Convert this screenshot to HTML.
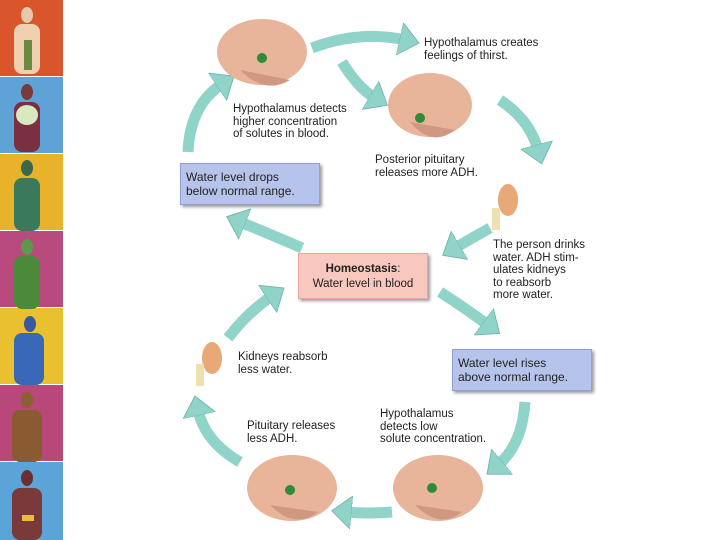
<!DOCTYPE html>
<html><head><style>
body{margin:0;width:720px;height:540px;background:#fff;position:relative;overflow:hidden;font-family:"Liberation Sans",sans-serif;}
.t{position:absolute;font-size:11.5px;line-height:12.5px;color:#222;}
.box{position:absolute;font-size:12px;line-height:14px;color:#222;box-shadow:2px 2px 3px #999;}
.p{position:absolute;left:0;width:63px;height:76px;}
</style></head><body>
<div class="p" style="top:0;background:#d9562c"></div>
<div class="p" style="top:77px;background:#5fa3d6"></div>
<div class="p" style="top:154px;background:#e8b22a"></div>
<div class="p" style="top:231px;background:#b84a7e"></div>
<div class="p" style="top:308px;background:#e8c030"></div>
<div class="p" style="top:385px;background:#b8487a"></div>
<div class="p" style="top:462px;background:#5aa4d8;height:78px"></div>
<svg style="position:absolute;left:0;top:0" width="63" height="540">
<g>
<ellipse cx="27" cy="15" rx="6" ry="8" fill="#e8c8a8"/><rect x="14" y="24" width="26" height="50" rx="8" fill="#f0d0b0"/><rect x="24" y="40" width="8" height="30" fill="#6a8a40"/>
<ellipse cx="27" cy="92" rx="6" ry="8" fill="#7a3a3a"/><rect x="14" y="102" width="26" height="50" rx="8" fill="#7a3040"/><ellipse cx="27" cy="115" rx="11" ry="10" fill="#d8e8c0"/>
<ellipse cx="27" cy="168" rx="6" ry="8" fill="#3a6a4a"/><rect x="14" y="178" width="26" height="53" rx="8" fill="#3a7a5a"/>
<ellipse cx="27" cy="247" rx="6" ry="8" fill="#5a9a4a"/><rect x="14" y="256" width="26" height="53" rx="8" fill="#4a8a3a"/>
<ellipse cx="30" cy="324" rx="6" ry="8" fill="#3a5aa0"/><rect x="14" y="333" width="30" height="52" rx="8" fill="#3a68b8"/>
<ellipse cx="27" cy="400" rx="6" ry="8" fill="#8a6030"/><rect x="12" y="410" width="30" height="52" rx="8" fill="#8a5a30"/>
<ellipse cx="27" cy="478" rx="6" ry="8" fill="#6a3030"/><rect x="12" y="488" width="30" height="52" rx="8" fill="#7a3a3a"/><rect x="22" y="515" width="12" height="6" fill="#e8c030"/>
</g></svg>
<svg style="position:absolute;left:0;top:0" width="720" height="540">
<defs><marker id="a" markerWidth="3" markerHeight="3" refX="0.5" refY="1.5" orient="auto" markerUnits="strokeWidth"><path d="M0,0 L1.8,1.5 L0,3 z" fill="#8fd3c9" stroke="#6bb5ab" stroke-width=".08"/></marker></defs>
<g fill="none" stroke="#8fd3c9" stroke-width="11" marker-end="url(#a)">
<path d="M312,48 Q360,30 405,40"/>
<path d="M342,62 Q358,88 375,98"/>
<path d="M500,100 Q530,120 538,150"/>
<path d="M188,152 Q190,105 222,84"/>
<path d="M490,228 Q472,238 455,248"/>
<path d="M302,248 Q265,232 240,222"/>
<path d="M440,292 Q465,308 488,325"/>
<path d="M228,338 Q248,312 272,296"/>
<path d="M525,402 Q522,445 498,465"/>
<path d="M392,512 Q368,514 346,512"/>
<path d="M240,462 Q205,442 198,410"/>
</g>
<g>
<ellipse cx="262" cy="52" rx="45" ry="33" fill="#e8b49a"/><path d="M240,70 Q265,95 290,80" fill="#d09880"/><circle cx="262" cy="58" r="5" fill="#2e8b3a"/>
<ellipse cx="430" cy="105" rx="42" ry="32" fill="#e8b49a"/><path d="M410,122 Q432,148 455,130" fill="#d09880"/><circle cx="420" cy="118" r="5" fill="#2e8b3a"/>
<ellipse cx="292" cy="488" rx="45" ry="33" fill="#e8b49a"/><path d="M270,505 Q295,530 318,512" fill="#d09880"/><circle cx="290" cy="490" r="5" fill="#2e8b3a"/>
<ellipse cx="438" cy="488" rx="45" ry="33" fill="#e8b49a"/><path d="M415,505 Q440,530 462,512" fill="#d09880"/><circle cx="432" cy="488" r="5" fill="#2e8b3a"/>
<ellipse cx="508" cy="200" rx="10" ry="16" fill="#e8a878"/><rect x="492" y="208" width="8" height="22" fill="#f0e0b0"/>
<ellipse cx="212" cy="358" rx="10" ry="16" fill="#e8a878"/><rect x="196" y="364" width="8" height="22" fill="#f0e0b0"/>
</g></svg>
<div class="t" style="left:424px;top:37px">Hypothalamus creates<br>feelings of thirst.</div>
<div class="t" style="left:233px;top:103px">Hypothalamus detects<br>higher concentration<br>of solutes in blood.</div>
<div class="t" style="left:375px;top:154px">Posterior pituitary<br>releases more ADH.</div>
<div class="t" style="left:493px;top:239px">The person drinks<br>water. ADH stim-<br>ulates kidneys<br>to reabsorb<br>more water.</div>
<div class="t" style="left:238px;top:351px">Kidneys reabsorb<br>less water.</div>
<div class="t" style="left:380px;top:408px">Hypothalamus<br>detects low<br>solute concentration.</div>
<div class="t" style="left:247px;top:420px">Pituitary releases<br>less ADH.</div>
<div class="box" style="left:180px;top:163px;width:128px;height:28px;padding:6px 5px;background:#b6c3ea;border:1px solid #8e9fd0">Water level drops<br>below normal range.</div>
<div class="box" style="left:298px;top:253px;width:130px;height:46px;background:#f8c8bf;border:1px solid #e8a89a;text-align:center;font-size:11.5px;line-height:15px;box-sizing:border-box;padding-top:8px"><b>Homeostasis</b>:<br>Water level in blood</div>
<div class="box" style="left:452px;top:349px;width:128px;height:28px;padding:6px 5px;background:#b6c3ea;border:1px solid #8e9fd0">Water level rises<br>above normal range.</div>
</body></html>
